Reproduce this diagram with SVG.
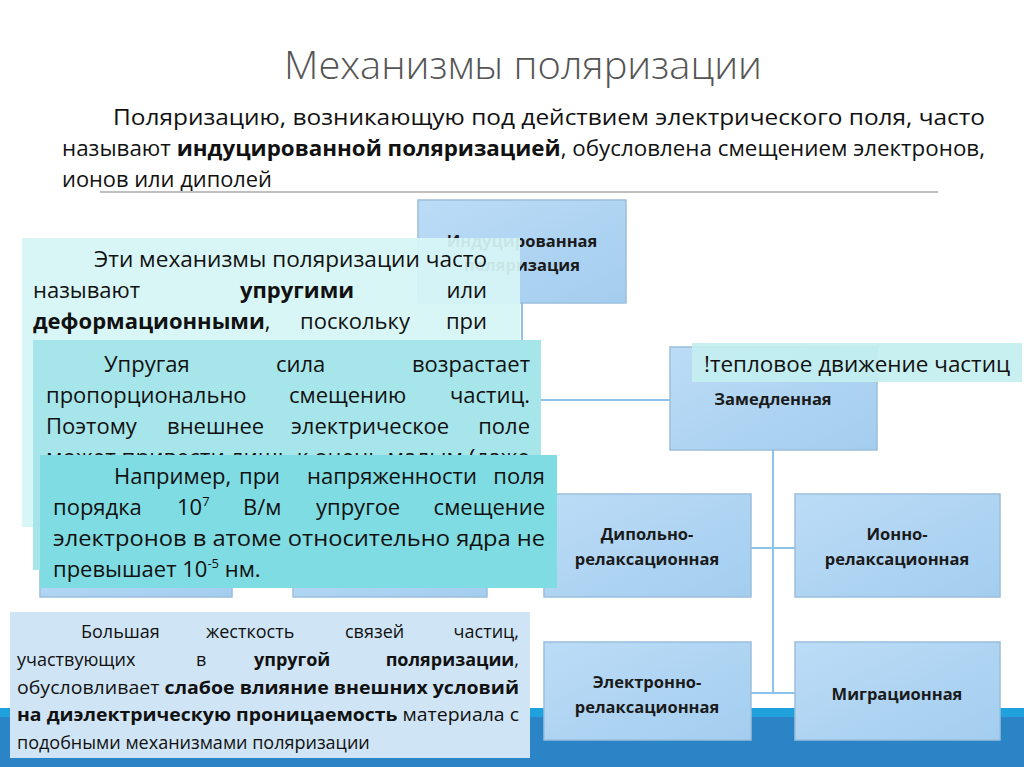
<svg xmlns="http://www.w3.org/2000/svg" width="1024" height="767" viewBox="0 0 1024 767">
<defs>
<linearGradient id="bg" x1="0" y1="0" x2="1" y2="1"><stop offset="0" stop-color="#bcdcf6"/><stop offset="1" stop-color="#a3cdef"/></linearGradient>
</defs>
<style>
.t{font-family:"Open Sans","Liberation Sans",sans-serif;fill:#111}
.b{font-weight:bold}
.node{fill:url(#bg);stroke:#9bbfdc;stroke-width:1.5}
.lbl{font-family:"Open Sans","Liberation Sans",sans-serif;font-weight:bold;font-size:16.5px;fill:#1a1a1a;text-anchor:middle}
.con{stroke:#8cc3ea;stroke-width:2;fill:none}
.bx{font-size:22px}
.e{text-anchor:end}
</style>
<rect width="1024" height="767" fill="#fff"/>
<rect x="0" y="708" width="1024" height="59" fill="#2a84c6"/>
<rect x="0" y="708" width="1024" height="9" fill="#1ea1dd"/>
<text x="523" y="79" class="t" font-size="38" font-weight="300" style="fill:#555" text-anchor="middle" textLength="478" lengthAdjust="spacingAndGlyphs">Механизмы поляризации</text>
<g class="t" font-size="21">
<text x="113" y="125" textLength="872" lengthAdjust="spacingAndGlyphs">Поляризацию, возникающую под действием электрического поля, часто</text>
<text x="62" y="156" textLength="923" lengthAdjust="spacingAndGlyphs">называют <tspan class="b">индуцированной поляризацией</tspan>, обусловлена смещением электронов,</text>
<text x="62" y="187" textLength="210" lengthAdjust="spacingAndGlyphs">ионов или диполей</text>
</g>
<line x1="100" y1="192" x2="938" y2="192" stroke="#aaa" stroke-width="1.5"/>
<g id="connectors">
<path class="con" d="M522 303 V400 H670"/>
<path class="con" d="M773 450 V693 M751 548 H795 M751 693 H795"/>
</g>
<g id="n1"><rect class="node" x="418" y="200" width="208" height="103"/><text class="lbl" x="522" y="247">Индуцированная</text><text class="lbl" x="522" y="271">поляризация</text></g>
<g id="n2"><rect class="node" x="670" y="347" width="207" height="103"/><text class="lbl" x="773" y="405">Замедленная</text></g>
<g id="n3"><rect class="node" x="544" y="494" width="207" height="103"/><text class="lbl" x="647" y="540">Дипольно-</text><text class="lbl" x="647" y="565">релаксационная</text></g>
<g id="n4"><rect class="node" x="795" y="494" width="205" height="103"/><text class="lbl" x="897" y="540">Ионно-</text><text class="lbl" x="897" y="565">релаксационная</text></g>
<g id="n5"><rect class="node" x="544" y="642" width="207" height="98"/><text class="lbl" x="647" y="688">Электронно-</text><text class="lbl" x="647" y="713">релаксационная</text></g>
<g id="n6"><rect class="node" x="795" y="642" width="205" height="98"/><text class="lbl" x="897" y="700">Миграционная</text></g>
<rect class="node" x="40" y="540" width="192" height="57"/>
<rect class="node" x="293" y="540" width="194" height="57"/>
<g id="note"><rect x="692" y="343" width="330" height="39" fill="#c3eff0" opacity="0.92"/><text class="t" x="704" y="372" font-size="22" textLength="306" lengthAdjust="spacingAndGlyphs">!тепловое движение частиц</text></g>
<g id="box1"><rect x="22" y="238" width="498" height="289" fill="#d6f5f6" opacity="0.93"/>
<g class="t bx"><text x="94" y="267" textLength="393" lengthAdjust="spacingAndGlyphs">Эти механизмы поляризации часто</text>
<text x="33" y="298">называют</text><text x="240" y="298" class="b">упругими</text><text x="487" y="298" class="e">или</text>
<text x="33" y="329"><tspan class="b">деформационными</tspan>,</text><text x="300" y="329">поскольку</text><text x="487" y="329" class="e">при</text></g></g>
<g id="box2"><rect x="33" y="340" width="508" height="230" fill="#a6e6ea"/>
<g class="t bx"><text x="104" y="372">Упругая</text><text x="276" y="372">сила</text><text x="530" y="372" class="e">возрастает</text>
<text x="46" y="403">пропорционально</text><text x="289" y="403">смещению</text><text x="530" y="403" class="e">частиц.</text>
<text x="46" y="434">Поэтому</text><text x="167" y="434">внешнее</text><text x="291" y="434">электрическое</text><text x="530" y="434" class="e">поле</text>
<text x="46" y="465" textLength="484" lengthAdjust="spacingAndGlyphs">может привести лишь к очень малым (даже</text></g></g>
<g id="box3"><rect x="40" y="455" width="517" height="133" fill="#7fdce2"/>
<g class="t bx"><text x="114" y="484">Например,</text><text x="239" y="484">при</text><text x="307" y="484">напряженности</text><text x="545" y="484" class="e">поля</text>
<text x="53" y="515">порядка</text><text x="177" y="515">10<tspan font-size="13" dy="-9">7</tspan></text><text x="243" y="515">В/м</text><text x="316" y="515">упругое</text><text x="545" y="515" class="e">смещение</text>
<text x="53" y="546" textLength="492" lengthAdjust="spacingAndGlyphs">электронов в атоме относительно ядра не</text>
<text x="53" y="577">превышает 10<tspan font-size="13" dy="-9">-5</tspan><tspan dy="9"> нм.</tspan></text></g></g>
<g id="box4"><rect x="10" y="612" width="520" height="146" fill="#cfe5f5"/>
<g class="t" font-size="18"><text x="81" y="638">Большая</text><text x="206" y="638">жесткость</text><text x="345" y="638">связей</text><text x="519" y="638" class="e">частиц,</text>
<text x="17" y="666">участвующих</text><text x="196" y="666">в</text><text x="254" y="666" class="b">упругой</text><text x="519" y="666" class="e"><tspan class="b">поляризации</tspan>,</text>
<text x="17" y="694" textLength="502" lengthAdjust="spacingAndGlyphs">обусловливает <tspan class="b">слабое влияние внешних условий</tspan></text>
<text x="17" y="721" textLength="502" lengthAdjust="spacingAndGlyphs"><tspan class="b">на диэлектрическую проницаемость</tspan> материала с</text>
<text x="17" y="749">подобными механизмами поляризации</text></g></g>
</svg>
